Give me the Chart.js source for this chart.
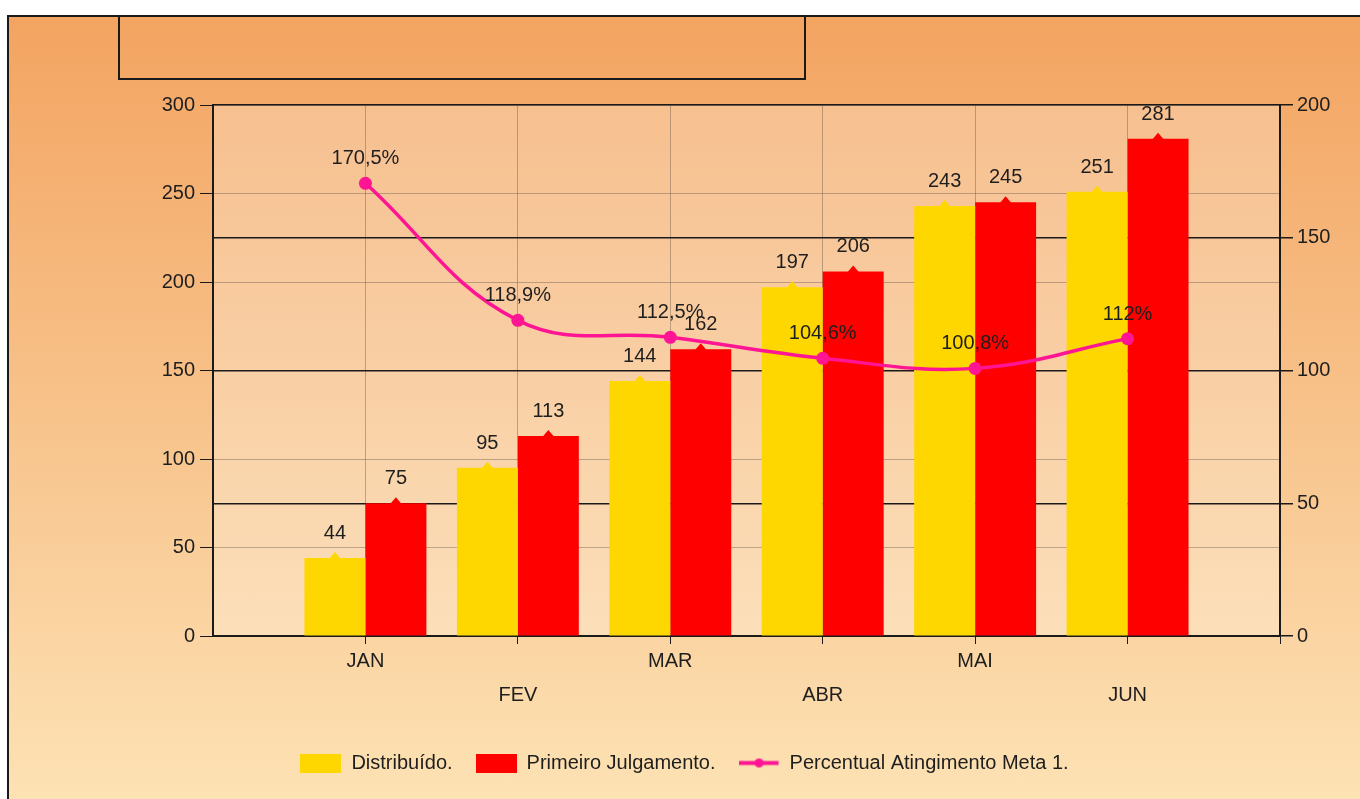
<!DOCTYPE html>
<html>
<head>
<meta charset="utf-8">
<script src="https://cdn.jsdelivr.net/npm/chart.js@4.4.1/dist/chart.umd.min.js"></script>
<style>
  html, body { margin: 0; padding: 0; background: #fff; }
  body { width: 1360px; height: 799px; position: relative; overflow: hidden; }
  #wrap {
    position: absolute; left: 7px; top: 15px; width: 1353px; height: 784px;
    box-sizing: border-box; border-top: 2px solid #1a1a1a; border-left: 2px solid #1a1a1a;
    background: linear-gradient(to bottom, #f3a461 0%, #f7bf86 45%, #fde2b4 100%);
  }
  #wrap canvas { position: absolute; left: 0; top: 0; }
  #titleBox {
    position: absolute; left: 118px; top: 15px; width: 688px; height: 65px;
    box-sizing: border-box; border: 2px solid #1a1a1a;
  }
</style>
</head>
<body>
<div id="wrap"><canvas id="metaChart" width="1351" height="782"></canvas></div>
<div id="titleBox"></div>
<script>
const months = ["JAN", "FEV", "MAR", "ABR", "MAI", "JUN"];
const distribuido = [44, 95, 144, 197, 243, 251];
const primeiroJulgamento = [75, 113, 162, 206, 245, 281];
const percentualMeta = [170.5, 118.9, 112.5, 104.6, 100.8, 112];
const leftAxisMax = 300;
const rightAxisMax = 200;
const tickStep = 50;

const FONT = "'Liberation Sans', Arial, sans-serif";
const TEXT = "#1e1e1e";
const AXIS = "#1a1a1a";

// one empty slot on each side, like the original x axis
const xLabels = ["", ...months, ""];
const pad = arr => [null, ...arr, null];

function fmtPct(v) {
    return String(v).replace(".", ",") + "%";
}

function makeIcon(draw) {
    const c = document.createElement("canvas");
    c.width = 41;
    c.height = 19;
    draw(c.getContext("2d"));
    return c;
}

const legendIcons = [
    makeIcon(ctx => { ctx.fillStyle = "#FFD700"; ctx.fillRect(0, 0, 41, 19); }),
    makeIcon(ctx => { ctx.fillStyle = "#FF0000"; ctx.fillRect(0, 0, 41, 19); }),
    makeIcon(ctx => {
        ctx.strokeStyle = "#FF1493";
        ctx.fillStyle = "#FF1493";
        ctx.lineWidth = 4;
        ctx.beginPath();
        ctx.moveTo(0, 9.5);
        ctx.lineTo(40, 9.5);
        ctx.stroke();
        ctx.beginPath();
        ctx.arc(20.5, 9.5, 4.5, 0, Math.PI * 2);
        ctx.fill();
    })
];

const plotBackground = {
    id: "plotBackground",
    beforeDraw(chart) {
        const { ctx, chartArea: a } = chart;
        ctx.save();
        ctx.fillStyle = "rgba(255,255,255,0.25)";
        ctx.fillRect(a.left, a.top, a.right - a.left, a.bottom - a.top);
        ctx.restore();
    }
};

// little marker sitting on top of every bar
const barMarkers = {
    id: "barMarkers",
    afterDatasetDraw(chart, args) {
        const ds = chart.data.datasets[args.index];
        if (ds.type !== "bar") return;
        const ctx = chart.ctx;
        ctx.save();
        ctx.fillStyle = ds.backgroundColor;
        args.meta.data.forEach((bar, j) => {
            if (ds.data[j] == null) return;
            ctx.beginPath();
            ctx.moveTo(bar.x - 6, bar.y + 1);
            ctx.lineTo(bar.x, bar.y - 6);
            ctx.lineTo(bar.x + 6, bar.y + 1);
            ctx.closePath();
            ctx.fill();
        });
        ctx.restore();
    }
};

const valueLabels = {
    id: "valueLabels",
    afterDatasetsDraw(chart) {
        const ctx = chart.ctx;
        ctx.save();
        ctx.font = "20px " + FONT;
        ctx.fillStyle = TEXT;
        ctx.textAlign = "center";
        ctx.textBaseline = "alphabetic";
        chart.data.datasets.forEach((ds, i) => {
            const meta = chart.getDatasetMeta(i);
            meta.data.forEach((el, j) => {
                const v = ds.data[j];
                if (v == null) return;
                const text = ds.type === "line" ? fmtPct(v) : String(v);
                ctx.fillText(text, el.x, el.y - 19);
            });
        });
        ctx.restore();
    }
};

Chart.defaults.font.family = FONT;
Chart.defaults.font.size = 20;
Chart.defaults.color = TEXT;

const ctx = document.getElementById("metaChart").getContext("2d");

new Chart(ctx, {
    data: {
        labels: xLabels,
        datasets: [
            {
                type: "bar",
                label: "Distribuído.",
                data: pad(distribuido),
                backgroundColor: "#FFD700",
                yAxisID: "y",
                categoryPercentage: 0.8,
                barPercentage: 1,
                order: 1
            },
            {
                type: "bar",
                label: "Primeiro Julgamento.",
                data: pad(primeiroJulgamento),
                backgroundColor: "#FF0000",
                yAxisID: "y",
                categoryPercentage: 0.8,
                barPercentage: 1,
                order: 1
            },
            {
                type: "line",
                label: "Percentual Atingimento Meta 1.",
                data: pad(percentualMeta),
                borderColor: "#FF1493",
                backgroundColor: "#FF1493",
                borderWidth: 3.5,
                pointRadius: 6.5,
                pointBackgroundColor: "#FF1493",
                pointBorderWidth: 0,
                tension: 0.4,
                yAxisID: "y1",
                order: 0
            }
        ]
    },
    options: {
        responsive: false,
        animation: false,
        layout: { padding: { top: 88, left: 0, right: 0, bottom: 16 } },
        plugins: {
            tooltip: { enabled: false },
            legend: {
                position: "bottom",
                labels: {
                    usePointStyle: true,
                    pointStyleWidth: 41,
                    boxHeight: 19,
                    padding: 23,
                    color: TEXT,
                    font: { size: 20 },
                    sort: (a, b) => a.datasetIndex - b.datasetIndex,
                    generateLabels(chart) {
                        const items = Chart.defaults.plugins.legend.labels.generateLabels(chart);
                        items.forEach(it => { it.pointStyle = legendIcons[it.datasetIndex]; });
                        return items;
                    }
                }
            }
        },
        scales: {
            x: {
                type: "category",
                offset: false,
                grid: {
                    offset: false,
                    color: "rgba(110,95,80,0.45)",
                    tickColor: c => (c.index === 0 ? "rgba(0,0,0,0)" : AXIS),
                    tickLength: 8,
                    lineWidth: 1
                },
                border: { color: AXIS, width: 2 },
                ticks: {
                    autoSkip: false,
                    maxRotation: 0,
                    padding: 0,
                    font: { size: 20, lineHeight: 1.7 },
                    callback(value, index) {
                        const lab = xLabels[index];
                        // FEV, ABR, JUN go on the second row
                        return index % 2 === 0 && lab ? ["", lab] : lab;
                    }
                },
                afterFit(scale) { scale.height = 94; }
            },
            y: {
                position: "left",
                min: 0,
                max: leftAxisMax,
                grid: {
                    color: "rgba(110,95,80,0.45)",
                    tickColor: AXIS,
                    tickLength: 13,
                    lineWidth: 1
                },
                border: { color: AXIS, width: 2 },
                ticks: { stepSize: tickStep, padding: 5, font: { size: 20 } },
                afterFit(scale) { scale.width = 204; }
            },
            y1: {
                position: "right",
                min: 0,
                max: rightAxisMax,
                grid: {
                    color: AXIS,
                    tickColor: AXIS,
                    tickLength: 13,
                    lineWidth: 1.5
                },
                border: { color: AXIS, width: 2 },
                ticks: { stepSize: tickStep, padding: 4, font: { size: 20 } },
                afterFit(scale) { scale.width = 80; }
            }
        }
    },
    plugins: [plotBackground, barMarkers, valueLabels]
});
</script>
</body>
</html>
